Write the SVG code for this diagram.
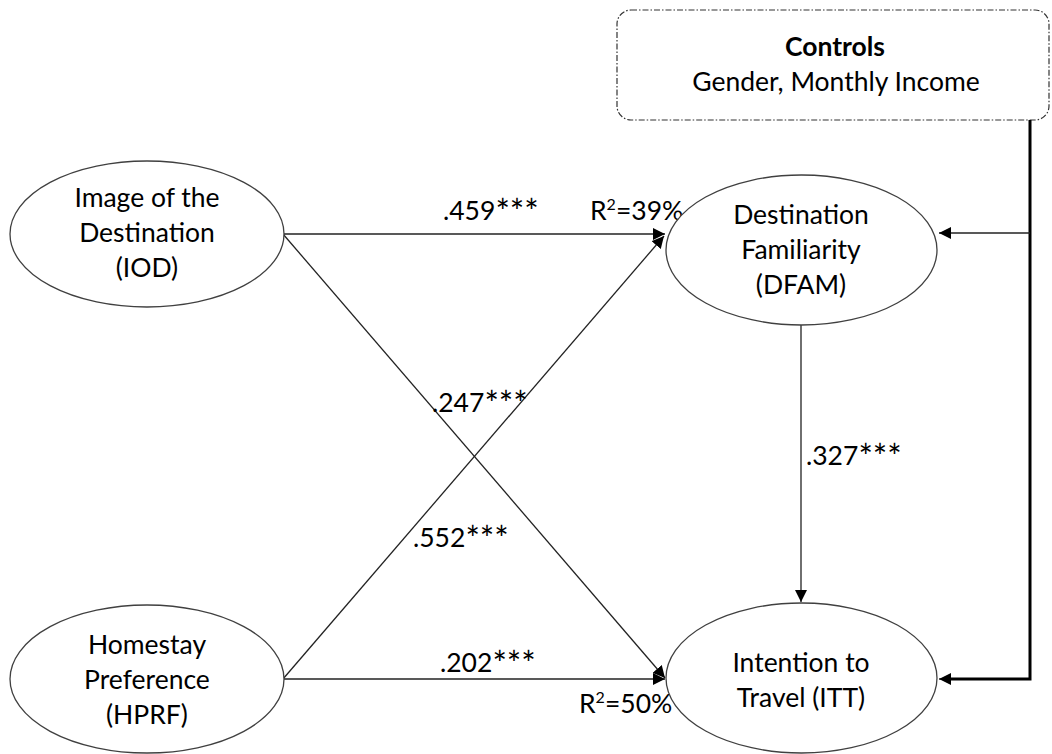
<svg xmlns="http://www.w3.org/2000/svg" width="1052" height="754" viewBox="0 0 1052 754">
<defs>
<style>
text{font-family:Lato,"Open Sans","Liberation Sans",sans-serif;font-size:26.5px;fill:#000}
.c{text-anchor:middle}
.s{font-size:34px}
.n{fill:#fff;stroke:#404040;stroke-width:1.3}
.l{stroke:#222;stroke-width:1.3;fill:none}
.k{stroke:#000;stroke-width:3;fill:none}
</style>
<marker id="a" viewBox="0 0 10 10" refX="10" refY="5" markerWidth="12" markerHeight="12" markerUnits="userSpaceOnUse" orient="auto"><path d="M0,0L10,5L0,10z" fill="#000"/></marker>
</defs>
<rect width="1052" height="754" fill="#fff"/>
<g id="controls">
<rect x="617" y="10" width="432" height="110" rx="14" fill="#fff" stroke="#333" stroke-width="1.2" stroke-dasharray="6,2,1.5,2"/>
<text class="c" x="835" y="56" font-weight="bold" font-size="27.5">Controls</text>
<text class="c" x="836" y="91" font-size="27.5">Gender, Monthly Income</text>
</g>
<g id="connectors">
<line class="l" x1="283" y1="234" x2="665" y2="234" marker-end="url(#a)"/>
<line class="l" x1="283" y1="234" x2="665" y2="678" marker-end="url(#a)"/>
<line class="l" x1="283" y1="679" x2="664" y2="236" marker-end="url(#a)"/>
<line class="l" x1="283" y1="679" x2="665" y2="679" marker-end="url(#a)"/>
<line class="l" x1="801" y1="325" x2="801" y2="602" marker-end="url(#a)"/>
<polyline class="k" points="1030,120 1030,679 945,679"/>
<line class="l" stroke-width="2" x1="945" y1="679" x2="939" y2="679" marker-end="url(#a)"/>
<line class="l" stroke-width="2" x1="1030" y1="233" x2="939" y2="233" marker-end="url(#a)"/>
<text x="443" y="220">.459<tspan class="s" dy="4">***</tspan></text>
<text x="590" y="220">R<tspan font-size="16" dy="-10">2</tspan><tspan dy="10">=39%</tspan></text>
<text x="432" y="412">.247<tspan class="s" dy="4">***</tspan></text>
<text x="413" y="547">.552<tspan class="s" dy="4">***</tspan></text>
<text x="806" y="465">.327<tspan class="s" dy="4">***</tspan></text>
<text x="440" y="672">.202<tspan class="s" dy="4">***</tspan></text>
<text x="579" y="713">R<tspan font-size="16" dy="-10">2</tspan><tspan dy="10">=50%</tspan></text>
</g>
<g id="IOD">
<ellipse class="n" cx="147" cy="234" rx="137" ry="73"/>
<text class="c" x="147" y="207">Image of the</text>
<text class="c" x="147" y="242">Destination</text>
<text class="c" x="147" y="277">(IOD)</text>
</g>
<g id="HPRF">
<ellipse class="n" cx="147" cy="679" rx="137" ry="74"/>
<text class="c" x="147" y="654">Homestay</text>
<text class="c" x="147" y="689">Preference</text>
<text class="c" x="147" y="724">(HPRF)</text>
</g>
<g id="DFAM">
<ellipse class="n" cx="801.5" cy="250" rx="135.5" ry="75"/>
<text class="c" x="801" y="224">Destination</text>
<text class="c" x="801" y="259">Familiarity</text>
<text class="c" x="801" y="294">(DFAM)</text>
</g>
<g id="ITT">
<ellipse class="n" cx="801.5" cy="678" rx="135.5" ry="75"/>
<text class="c" x="801" y="672">Intention to</text>
<text class="c" x="801" y="707">Travel (ITT)</text>
</g>
</svg>
